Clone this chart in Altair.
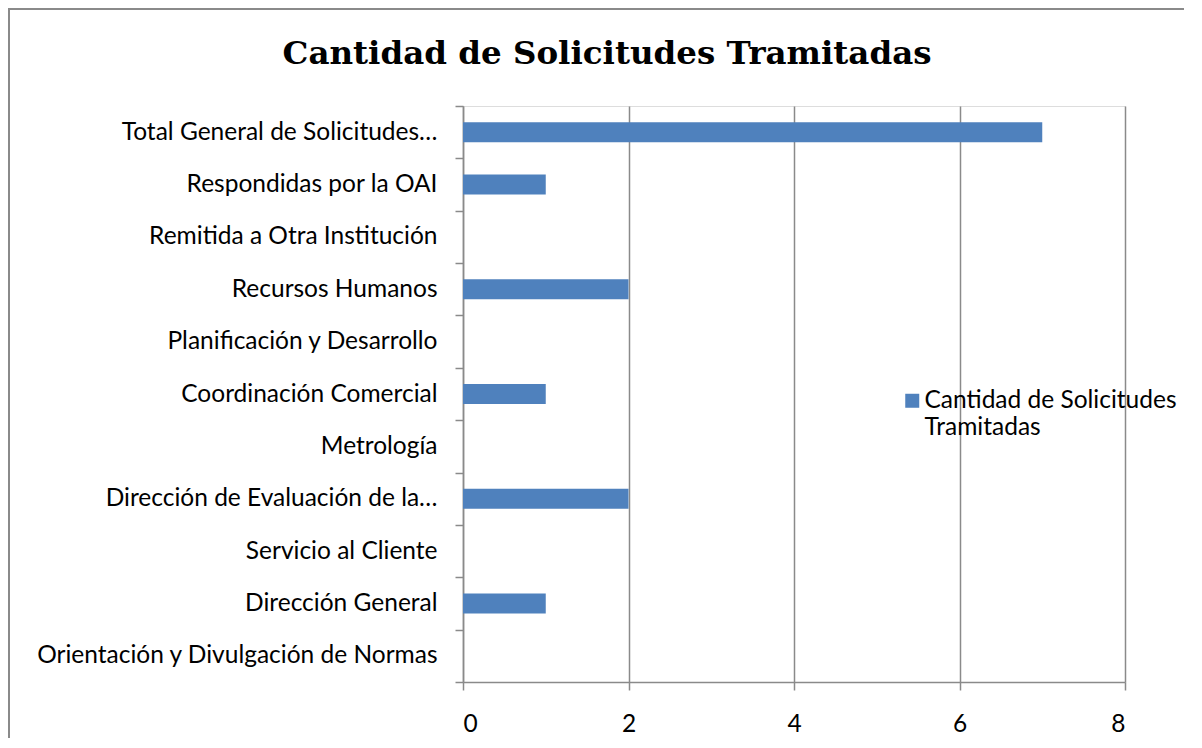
import altair as alt
import pandas as pd

categorias = [
    "Total General de Solicitudes…",
    "Respondidas por la OAI",
    "Remitida a Otra Institución",
    "Recursos Humanos",
    "Planificación y Desarrollo",
    "Coordinación Comercial",
    "Metrología",
    "Dirección de Evaluación de la…",
    "Servicio al Cliente",
    "Dirección General",
    "Orientación y Divulgación de Normas",
]
valores = [7, 1, 0, 2, 0, 1, 0, 2, 0, 1, 0]
serie = "Cantidad de Solicitudes Tramitadas"
ticks_x = [0, 2, 4, 6, 8]
titulo = "Cantidad de Solicitudes Tramitadas"

df = pd.DataFrame({
    "categoria": categorias,
    "valor": valores,
    "serie": [serie] * len(categorias),
})

W, H = 662, 576
GRAY = "#8a8a8a"
LABEL_FONT = "Lato"
FS = 24.5

bars = alt.Chart(df).mark_bar(size=20).encode(
    y=alt.Y(
        "categoria:N",
        sort=categorias,
        scale=alt.Scale(paddingInner=0, paddingOuter=0),
        axis=alt.Axis(
            title=None, tickBand="extent", tickSize=8, tickColor=GRAY, tickWidth=1.5,
            domainColor=GRAY, domainWidth=1.5, labelPadding=18, labelFont=LABEL_FONT,
            labelFontSize=FS, labelColor="black", labelLimit=600, grid=False,
        ),
    ),
    x=alt.X(
        "valor:Q",
        scale=alt.Scale(domain=[0, 8], nice=False),
        axis=alt.Axis(
            values=ticks_x, title=None, tickSize=8, tickColor=GRAY, tickWidth=1.5,
            domainColor=GRAY, domainWidth=1.5, grid=True, gridColor=GRAY, gridWidth=1.5,
            labelPadding=22, labelFont=LABEL_FONT, labelFontSize=FS, labelColor="black",
        ),
    ),
    color=alt.Color(
        "serie:N",
        scale=alt.Scale(range=["#4F81BD"]),
        legend=alt.Legend(
            title=None, orient="none", legendX=437, legendY=290, padding=0,
            symbolType="M-1,-2.07H1V-0.07H-1Z", symbolSize=196, symbolStrokeWidth=0,
            labelFont=LABEL_FONT, labelFontSize=FS, labelColor="black", labelLimit=400,
            labelOffset=0, labelBaseline="alphabetic",
            labelExpr="[slice(datum.label, 0, 23), slice(datum.label, 24)]",
        ),
    ),
)

border = alt.Chart(pd.DataFrame({"b": [0]})).mark_rect(
    fillOpacity=0, stroke=GRAY, strokeWidth=2
).encode(
    x=alt.value(-454), x2=alt.value(W + 300),
    y=alt.value(-97), y2=alt.value(H + 300),
)

chart = alt.layer(border, bars).properties(
    width=W,
    height=H,
    title=alt.TitleParams(
        text=titulo, font="DejaVu Serif", fontSize=32.5, fontWeight="bold",
        color="black", anchor="middle", baseline="alphabetic", offset=-88, dx=-187,
    ),
    autosize=alt.AutoSizeParams(type="none"),
    padding={"left": 455, "top": 98, "right": 59, "bottom": 56},
).configure_view(stroke=None).configure(background="white")

chart.save("out.html", embed_options={"renderer": "svg", "actions": False})
